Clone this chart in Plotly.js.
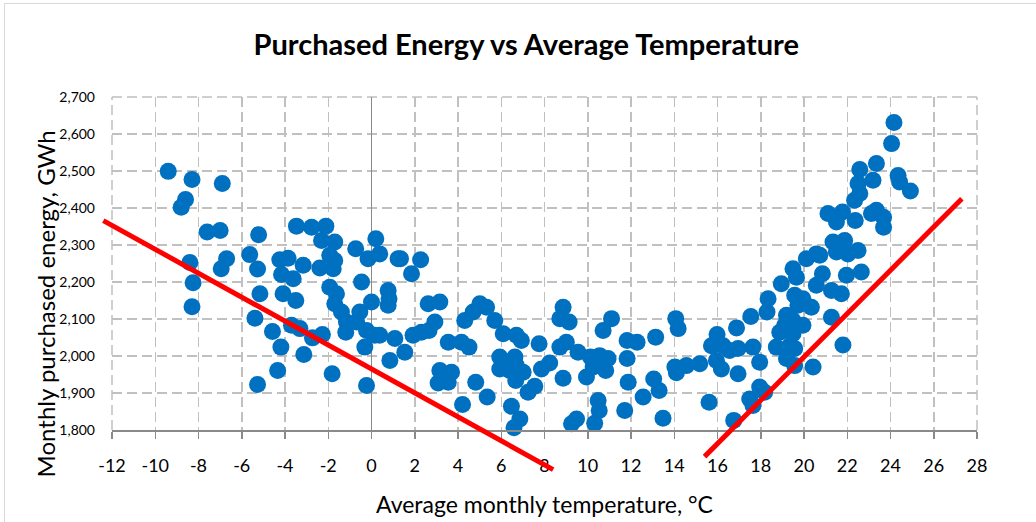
<!DOCTYPE html>
<html>
<head>
<meta charset="utf-8">
<script src="https://cdn.plot.ly/plotly-3.0.1.min.js"></script>
<style>
  html, body { margin: 0; padding: 0; background: #fff; }
  #wrap { position: relative; width: 1036px; height: 522px; overflow: hidden; }
  #chart { position: absolute; left: 0; top: 0; width: 1036px; height: 522px; }
  #frame { position: absolute; left: 4px; top: 3px; width: 1100px; height: 600px;
           border-left: 1.5px solid #d9d9d9; border-top: 1.5px solid #d9d9d9; pointer-events: none; }
</style>
</head>
<body>
<div id="wrap"><div id="chart"></div><div id="frame"></div></div>
<script>
// Average monthly temperature (°C)
const temperature = [
  -9.4, -8.3, -6.9, -8.6, -8.8, -7.6, -7.0, -8.4, -8.25, -8.3,
  -6.7, -6.95, -5.63, -5.27, -5.22, -5.16, -5.39, -4.58, -4.19, -4.34,
  -5.27, -4.24, -3.86, -4.16, -3.62, -3.16, -4.09, -3.5, -3.7, -3.31,
  -3.13, -2.73, -2.27, -2.39, -1.93, -1.7, -1.77, -1.93, -1.62, -1.7,
  -1.39, -1.16, -1.19, -0.46, -0.54, 0.0, -0.69, -0.23, 0.15, -0.31,
  -1.82, -0.23, 0.77, 0.77, 1.08, 0.85, 1.23, -3.47, -2.77, -2.11,
  -2.31, -1.7, -0.73, 0.2, 0.38, -0.16, 1.34, 2.27, 1.85, 0.81,
  0.38, 1.54, 1.92, 2.31, 2.62, 3.16, 2.66, 2.93, 3.55, 4.16,
  4.51, 4.31, 4.7, 5.01, 5.32, 5.7, 6.09, 6.7, 6.93, 7.75,
  3.16, 3.7, 3.08, 3.55, 4.82, 4.21, 5.35, 5.93, 6.16, 5.93,
  6.39, 6.63, 6.7, 7.01, 6.67, 6.47, 6.86, 6.59, 7.24, 7.55,
  7.86, 8.24, 8.71, 9.01, 8.86, 8.86, 8.71, 9.14, 9.55, 9.25,
  9.48, 10.12, 10.55, 10.94, 9.94, 10.25, 10.83, 10.48, 10.53, 10.32,
  10.71, 11.1, 11.82, 12.28, 11.82, 11.87, 11.71, 13.14, 13.05, 13.3,
  12.56, 13.48, 14.07, 14.18, 14.03, 14.1,
  24.16, 24.05, 22.58, 23.35, 22.5, 23.19, 22.58, 22.34, 24.35, 24.42,
  24.92, 21.11, 21.78, 21.5, 22.37, 23.35, 23.12, 23.68, 23.68, 21.34,
  21.88, 21.5, 22.03, 22.5, 20.57, 20.11, 19.49, 20.85, 21.96, 22.65,
  18.95, 20.73, 19.65, 20.57, 21.27, 21.73, 19.57, 19.95, 20.34, 18.34,
  18.29, 19.72, 19.19, 19.49, 19.95, 19.11, 18.88, 21.27, 21.8, 17.54,
  16.88, 15.98, 15.72, 16.26, 16.56, 16.95, 17.64, 17.95, 15.95, 16.18,
  15.18, 14.56, 16.95, 18.72, 19.34, 19.57, 19.19, 19.57, 20.42, 19.49,
  15.61, 17.95, 18.18, 17.49, 17.64, 16.75
];
// Monthly purchased energy (GWh)
const energy = [
  2499, 2477, 2466, 2423, 2402, 2335, 2339, 2253, 2198, 2133,
  2263, 2236, 2274, 2235, 2328, 2168, 2102, 2066, 2024, 1961,
  1923, 2260, 2264, 2220, 2209, 2245, 2168, 2150, 2083, 2074,
  2004, 2049, 2058, 2238, 2272, 2258, 2236, 2186, 2168, 2141,
  2119, 2092, 2064, 2200, 2119, 2146, 2092, 2069, 2056, 2024,
  1952, 1920, 2177, 2137, 2047, 1988, 2263, 2351, 2348, 2351,
  2312, 2308, 2290, 2317, 2276, 2263, 2263, 2260, 2222, 2155,
  2056, 2010, 2056, 2064, 2141, 2146, 2069, 2092, 2037, 2037,
  2024, 2096, 2119, 2141, 2132, 2096, 2060, 2056, 2042, 2033,
  1961, 1956, 1927, 1929, 1929, 1869, 1889, 1997, 1979, 1965,
  1961, 1997, 1974, 1956, 1934, 1864, 1830, 1806, 1902, 1918,
  1965, 1981, 2024, 2037, 1940, 2132, 2101, 2092, 2010, 1817,
  1830, 1997, 2001, 1993, 1943, 1970, 1961, 1880, 1853, 1818,
  2069, 2101, 2042, 2037, 1993, 1929, 1853, 2051, 1938, 1907,
  1889, 1832, 2101, 2074, 1970, 1955,
  2631, 2574, 2504, 2520, 2466, 2475, 2439, 2421, 2488, 2470,
  2446, 2385, 2389, 2362, 2366, 2394, 2385, 2375, 2348, 2308,
  2312, 2281, 2276, 2285, 2276, 2263, 2236, 2222, 2218, 2227,
  2195, 2272, 2213, 2191, 2177, 2168, 2164, 2155, 2132, 2155,
  2119, 2137, 2110, 2096, 2083, 2083, 2064, 2105, 2030, 2107,
  2076, 2058, 2028, 2028, 2015, 2020, 2024, 1983, 1988, 1965,
  1979, 1974, 1952, 2024, 2028, 2020, 1993, 1974, 1970, 2060,
  1875, 1916, 1902, 1884, 1866, 1826
];
// Hand-drawn red trend lines (endpoints in data units: temperature, energy)
const coldLineX = [-12.4, 8.4];
const coldLineY = [2366, 1693];
const warmLineX = [15.4, 27.3];
const warmLineY = [1728, 2425];

const xTickVals = [-12, -10, -8, -6, -4, -2, 0, 2, 4, 6, 8, 10, 12, 14, 16, 18, 20, 22, 24, 26, 28];
const yTickVals = [1800, 1900, 2000, 2100, 2200, 2300, 2400, 2500, 2600, 2700];

const xRange = [-12, 28];
const yRange = [1800, 2700];
const FONT = 'Lato, "Open Sans", sans-serif';

// map data values to paper fraction (domain is [0,1]) so the lines may run past the axes like the original
function toPaperX(v) { return (v - xRange[0]) / (xRange[1] - xRange[0]); }
function toPaperY(v) { return (v - yRange[0]) / (yRange[1] - yRange[0]); }
function lineShape(xs, ys) {
  return { type: 'line', xref: 'paper', yref: 'paper', layer: 'above',
    x0: toPaperX(xs[0]), y0: toPaperY(ys[0]), x1: toPaperX(xs[1]), y1: toPaperY(ys[1]),
    line: { color: '#FF0000', width: 5 } };
}

const gridDash = '10px,5px';
const gridColor = '#c0c0c0';
// dashed grid lines at the plot edges (Plotly omits grid lines at the range ends)
function edgeShape(x0, y0, x1, y1) {
  return { type: 'line', xref: 'paper', yref: 'paper', layer: 'below',
    x0: x0, y0: y0, x1: x1, y1: y1, line: { color: gridColor, width: 1.5, dash: gridDash } };
}

const trace = {
  type: 'scatter', mode: 'markers',
  x: temperature, y: energy,
  marker: { color: '#0070C0', size: 17, line: { width: 0 } },
  cliponaxis: false,
  hoverinfo: 'x+y'
};

const layout = {
  width: 1036, height: 522,
  margin: { l: 112, r: 59, t: 97, b: 92 },
  paper_bgcolor: '#ffffff', plot_bgcolor: '#ffffff',
  showlegend: false,
  font: { family: FONT, color: '#000' },
  title: {
    text: 'Purchased Energy vs Average Temperature',
    font: { family: FONT, size: 29, weight: 'bold', color: '#000' },
    x: 0.508, xanchor: 'center', y: 0.914, yanchor: 'middle'
  },
  xaxis: {
    range: xRange, tickvals: xTickVals, ticktext: xTickVals.map(String),
    showgrid: true, gridcolor: gridColor, gridwidth: 1.5, griddash: gridDash,
    zeroline: true, zerolinecolor: '#8a8a8a', zerolinewidth: 1.5,
    showline: true, linecolor: '#8a8a8a', linewidth: 1.5,
    ticks: 'outside', ticklen: 7, tickwidth: 1.5, tickcolor: '#8a8a8a',
    ticklabelstandoff: 12,
    tickfont: { family: FONT, size: 18, color: '#000' },
    title: { text: 'Average monthly temperature, °C', font: { family: FONT, size: 23, color: '#000' }, standoff: 22 },
    fixedrange: true
  },
  yaxis: {
    range: yRange, tickvals: yTickVals, tickformat: ',d',
    showgrid: true, gridcolor: gridColor, gridwidth: 1.5, griddash: gridDash,
    zeroline: false, showline: false, ticks: '',
    ticklabelstandoff: 16,
    tickfont: { family: FONT, size: 14, color: '#000' },
    fixedrange: true
  },
  annotations: [{
    text: 'Monthly purchased energy, GWh', textangle: -90,
    xref: 'paper', yref: 'paper', x: -0.0775, y: 0.38,
    xanchor: 'center', yanchor: 'middle', showarrow: false,
    font: { family: FONT, size: 24, color: '#000' }
  }],
  shapes: [
    edgeShape(0, 0, 0, 1), edgeShape(1, 0, 1, 1), edgeShape(0, 1, 1, 1),
    lineShape(coldLineX, coldLineY), lineShape(warmLineX, warmLineY)
  ]
};

Plotly.newPlot('chart', [trace], layout, { displayModeBar: false, staticPlot: true });
</script>
</body>
</html>
